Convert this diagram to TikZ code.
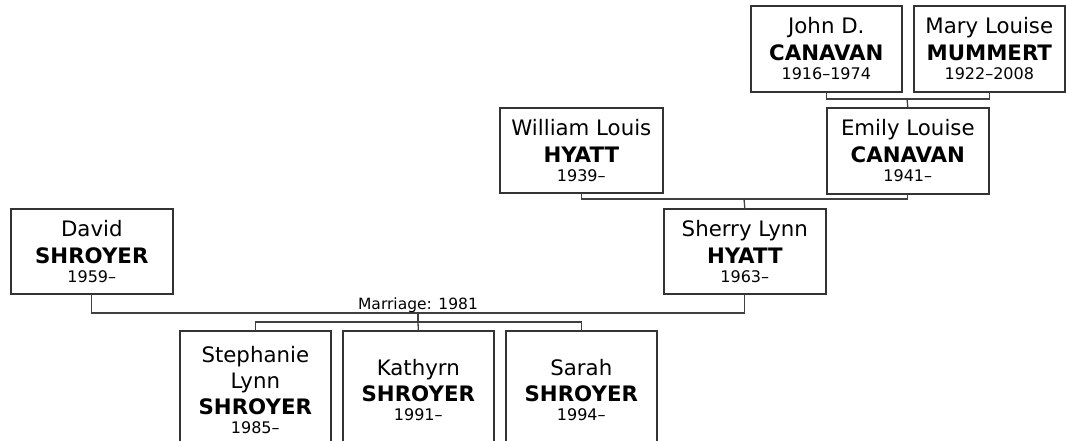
\documentclass[tikz,border=0pt]{standalone}
\usepackage{fontspec}
\setmainfont{DejaVu Sans}
\begin{document}
\begin{tikzpicture}[x=1pt, y=-1pt, line cap=rect, line join=miter,
    person/.style={draw=black!80, line width=1.6pt, fill=white, anchor=north west,
      inner sep=0pt, align=center, minimum width=162pt, minimum height=85pt,
      font=\fontsize{21.3}{27}\selectfont},
    child/.style={person, minimum width=151pt, minimum height=118pt},
    link/.style={draw=black!75, line width=1.3pt}]
    % Fixed frame, as in the source image; the children's boxes run past it.
    \useasboundingbox (0,0) rectangle (1066,441);
    \clip (0,0) rectangle (1066,441);
    \newcommand\yr[1]{\\[-8pt]{\fontsize{16}{18}\selectfont #1}}
    % Grandparents on the mother's side.
    \node[person, minimum width=151pt, minimum height=86pt] (john) at (750,5)
      {John D.\\\textbf{CANAVAN}\yr{1916–1974}};
    \node[person, minimum width=151pt, minimum height=86pt] (mary) at (913,5)
      {Mary Louise\\\textbf{MUMMERT}\yr{1922–2008}};
    % Parents of the mother.
    \node[person, minimum width=163pt] (william) at (499,107)
      {William Louis\\\textbf{HYATT}\yr{1939–}};
    \node[person, minimum height=86pt] (emily) at (826,107)
      {Emily Louise\\\textbf{CANAVAN}\yr{1941–}};
    % The couple.
    \node[person] (david) at (10,208)
      {David\\\textbf{SHROYER}\yr{1959–}};
    \node[person] (sherry) at (663,208)
      {Sherry Lynn\\\textbf{HYATT}\yr{1963–}};
    % Their children.
    \node[child] (stephanie) at (179,330)
      {Stephanie\\[-1pt]Lynn\\[-1pt]\textbf{SHROYER}\yr{1985–}};
    \node[child] (kathyrn) at (342,330)
      {Kathyrn\\[-1pt]\textbf{SHROYER}\yr{1991–}};
    \node[child] (sarah) at (505,330)
      {Sarah\\[-1pt]\textbf{SHROYER}\yr{1994–}};
    % Junctions of the connector bars.
    \coordinate (jm) at (907,99);
    \coordinate (we) at (744,199);
    \coordinate (ds) at (418,313);
    \coordinate (kids) at (418,322);
    \draw[link] (john.south) |- (jm) -| (mary.south);
    \draw[link] (jm) -- (emily.north);
    \draw[link] (william.south) |- (we) -| (emily.south);
    \draw[link] (we) -- (sherry.north);
    \draw[link] (david.south) |- (ds) -| (sherry.south);
    \node[anchor=base, inner sep=0pt, font=\fontsize{15.5}{17}\selectfont] (wed) at (418,309)
      {Marriage: 1981};
    \draw[link] (ds) -- (kids);
    \draw[link] (stephanie.north) |- (kids) -| (sarah.north);
    \draw[link] (kids) -- (kathyrn.north);
\end{tikzpicture}
\end{document}
